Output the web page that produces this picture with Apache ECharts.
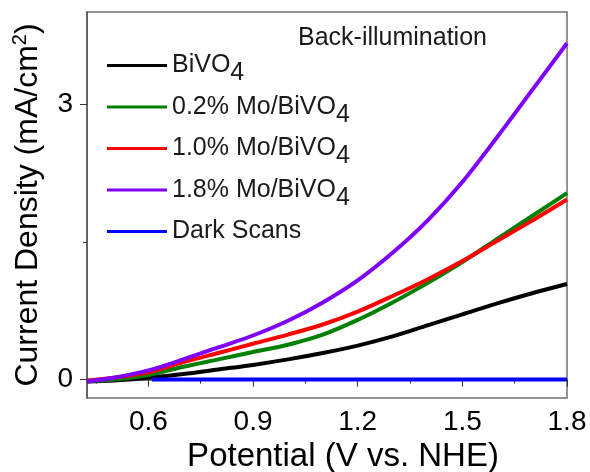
<!DOCTYPE html>
<html>
<head>
<meta charset="utf-8">
<script src="https://cdn.jsdelivr.net/npm/echarts@6/dist/echarts.min.js"></script>
<style>html,body{margin:0;padding:0;background:#fff;}#c{width:590px;height:472px;}</style>
</head>
<body>
<div id="c"></div>
<script>
// ---- data ----
const potential = [0.424, 0.5, 0.6, 0.7, 0.8, 0.9, 1.0, 1.1, 1.2, 1.3, 1.4, 1.5, 1.6, 1.7, 1.8];
const bivo4  = [-0.02, -0.01, 0.02, 0.06, 0.11, 0.16, 0.22, 0.29, 0.37, 0.47, 0.59, 0.71, 0.83, 0.94, 1.04];
const mo02   = [-0.02, 0.00, 0.05, 0.14, 0.22, 0.30, 0.38, 0.49, 0.65, 0.84, 1.05, 1.28, 1.53, 1.78, 2.03];
const mo10   = [-0.01, 0.02, 0.08, 0.19, 0.29, 0.39, 0.49, 0.60, 0.74, 0.91, 1.09, 1.29, 1.51, 1.73, 1.96];
const mo18   = [-0.02, 0.02, 0.10, 0.22, 0.35, 0.48, 0.64, 0.84, 1.08, 1.38, 1.73, 2.15, 2.64, 3.15, 3.66];
const darkPotential = [0.61, 1.8];
const darkCurrent   = [0.0, 0.0];
const seriesNames = ['BiVO4', '0.2% Mo/BiVO4', '1.0% Mo/BiVO4', '1.8% Mo/BiVO4', 'Dark Scans'];
const xTickLabels = [0.6, 0.9, 1.2, 1.5, 1.8];
const xMinorTicks = [0.45, 0.75, 1.05, 1.35, 1.65];
const yTickLabels = [0, 3];
const yMinorTicks = [1.5];
const xRange = [0.424, 1.8];
const yRange = [-0.2, 4.0];

const FONT = "'Liberation Sans', Arial, sans-serif";
const colors = ['#000000', '#008000', '#ff0000', '#8000ff', '#0000ff'];

function pairs(xs, ys) { return xs.map((x, i) => [x, ys[i]]); }
const seriesData = [pairs(potential, bivo4), pairs(potential, mo02), pairs(potential, mo10), pairs(potential, mo18), pairs(darkPotential, darkCurrent)];

const chart = echarts.init(document.getElementById('c'), null, {renderer: 'canvas'});
const gridBox = {left: 87, right: 23, top: 12, bottom: 74, containLabel: false, outerBoundsMode: 'none'};

chart.setOption({
  animation: false,
  backgroundColor: '#ffffff',
  title: {
    text: 'Back-illumination', left: 298, top: 26, padding: 0,
    textStyle: {fontFamily: FONT, fontSize: 25, fontWeight: 'normal', color: '#1a1a1a'}
  },
  legend: {
    orient: 'vertical', left: 107, top: 45, padding: 0, itemGap: 0.5,
    itemWidth: 60, itemHeight: 3, icon: 'rect',
    data: seriesNames,
    formatter: function (name) {
      if (/BiVO4$/.test(name)) return '{a|' + name.slice(0, -1) + '}{s|4}';
      return '{a|' + name + '}';
    },
    textStyle: {
      color: '#1a1a1a', fontFamily: FONT, fontSize: 25,
      rich: {
        a: {fontFamily: FONT, fontSize: 25, lineHeight: 24, padding: [8, 0, 8, 0], color: '#1a1a1a'},
        s: {fontFamily: FONT, fontSize: 25, lineHeight: 24, padding: [16, 0, 0, 0], color: '#1a1a1a'}
      }
    }
  },
  grid: [
    Object.assign({show: true, borderColor: '#707070', borderWidth: 1.5, backgroundColor: 'transparent'}, gridBox),
    Object.assign({show: false}, gridBox)
  ],
  xAxis: [
    {
      type: 'value', gridIndex: 0, min: xRange[0], max: xRange[1], position: 'bottom',
      axisLine: {show: true, lineStyle: {color: '#555', width: 1.5}},
      axisTick: {show: true, customValues: xTickLabels, length: 7, lineStyle: {color: '#333', width: 1}},
      axisLabel: {customValues: xTickLabels, margin: 10, fontSize: 28, fontFamily: FONT, color: '#000',
        formatter: v => Number(v).toFixed(1)},
      splitLine: {show: false},
      name: 'Potential (V vs. NHE)', nameLocation: 'middle', nameGap: 42,
      nameTextStyle: {fontFamily: FONT, fontSize: 33, color: '#000', padding: [0, 0, 0, 32]}
    },
    {
      type: 'value', gridIndex: 1, min: xRange[0], max: xRange[1], position: 'bottom',
      axisLine: {show: false},
      axisTick: {show: true, customValues: xMinorTicks, length: 4, lineStyle: {color: '#333', width: 1}},
      axisLabel: {show: false}, splitLine: {show: false}
    }
  ],
  yAxis: [
    {
      type: 'value', gridIndex: 0, min: yRange[0], max: yRange[1], position: 'left',
      axisLine: {show: true, lineStyle: {color: '#555', width: 1.5}},
      axisTick: {show: true, customValues: yTickLabels, length: 7, lineStyle: {color: '#333', width: 1}},
      axisLabel: {customValues: yTickLabels, margin: 14, fontSize: 28, fontFamily: FONT, color: '#000'},
      splitLine: {show: false},
      name: '{a|Current Density (mA/cm}{p|2}{a|)}', nameLocation: 'middle', nameGap: 40,
      nameTextStyle: {
        fontFamily: FONT, fontSize: 32, color: '#000',
        rich: {
          a: {fontFamily: FONT, fontSize: 32, lineHeight: 34, color: '#000'},
          p: {fontFamily: FONT, fontSize: 20, lineHeight: 20, padding: [0, 0, 16, 0], color: '#000'}
        }
      }
    },
    {
      type: 'value', gridIndex: 1, min: yRange[0], max: yRange[1], position: 'left',
      axisLine: {show: false},
      axisTick: {show: true, customValues: yMinorTicks, length: 4, lineStyle: {color: '#333', width: 1}},
      axisLabel: {show: false}, splitLine: {show: false}
    }
  ],
  series: seriesNames.map((name, i) => ({
    name: name, type: 'line', xAxisIndex: 0, yAxisIndex: 0,
    data: seriesData[i], symbol: 'none', smooth: 0.3,
    lineStyle: {color: colors[i], width: 4},
    itemStyle: {color: colors[i]},
    z: 2 + i
  }))
});
</script>
</body>
</html>
